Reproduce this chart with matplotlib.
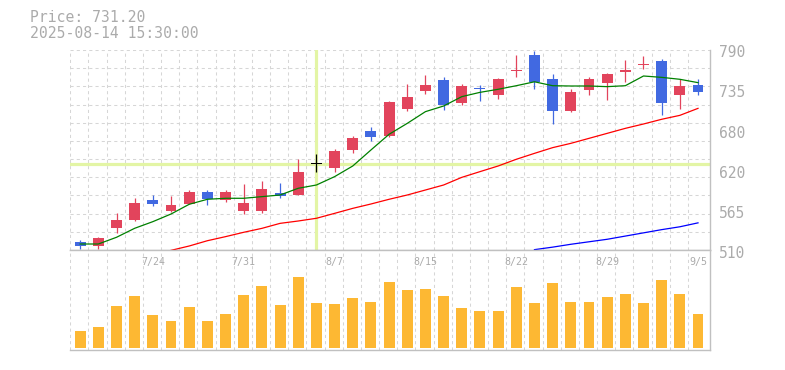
import numpy as np
import matplotlib
matplotlib.use("Agg")
import matplotlib.pyplot as plt
import matplotlib.transforms as mtrans

# 日足データ (チャートから読み取り)
dates = ["7/17", "7/18", "7/22", "7/23", "7/24", "7/25", "7/28", "7/29", "7/30", "7/31",
         "8/1", "8/4", "8/5", "8/6", "8/7", "8/8", "8/12", "8/13", "8/14", "8/15",
         "8/18", "8/19", "8/20", "8/21", "8/22", "8/25", "8/26", "8/27", "8/28", "8/29",
         "9/1", "9/2", "9/3", "9/4", "9/5"]
opens = [521, 515, 541, 552, 580, 565, 574.5, 591, 580.5, 565,
         565, 590, 587.5, 630.5, 625, 650.5, 676.5, 669.5, 707.5, 732.5,
         748, 716, 736, 727, 760, 783, 749.5, 704.5, 734.5, 744,
         759.5, 769.5, 774.5, 727, 741]
highs = [524, 528.6, 561.8, 582.8, 587, 586, 594, 594, 594, 602.8,
         606.6, 603.8, 637.4, 644.4, 651.4, 669.6, 681.8, 718.6, 742, 755,
         752.2, 742.4, 741, 751.2, 783, 788.6, 756.4, 735.4, 752.2, 757.8,
         776, 782, 777.4, 749, 749]
lows = [511.4, 511.8, 534.2, 551, 572, 563, 574, 573.4, 577.6, 560.8,
        562.2, 583.2, 587.4, 618.8, 619.6, 646.2, 663, 668.6, 705, 728.4,
        706, 713.4, 719, 721.8, 752.7, 735.4, 686, 703.6, 727.4, 720,
        745.2, 763.4, 699, 707.4, 727]
closes = [515, 527, 552, 576, 575, 573, 591, 582, 591, 576,
          595, 585, 619, 630.5, 648.5, 667, 668.5, 717, 724, 741,
          713.5, 739.5, 735, 749.5, 762, 745, 705, 731.2, 749.5, 756.5,
          762, 770.5, 716, 739.5, 731.5]
volumes = [17, 21, 42, 52, 33, 27, 41, 27, 34, 53,
           62, 43, 71, 45, 44, 50, 46, 66, 58, 59,
           52, 40, 37, 37, 61, 45, 65, 46, 46, 51,
           54, 45, 68, 54, 34]

# 移動平均線
ma_short = [518.4, 518.4, 527.8, 540.4, 549.7, 560.4, 574, 581, 582.4, 582.4,
            584.7, 587, 596.4, 601, 612.7, 627.6, 650, 672, 687.3, 703.7,
            711.6, 724.7, 730.7, 735, 740, 745.5, 740, 739.6, 739.6, 738.7,
            740, 753.6, 751.7, 749, 744.3]
ma_mid = [np.nan] * 5 + [509.5, 515.6, 523, 528.7, 534.8, 540.3, 547.3, 550.6, 554.4, 561.3,
                         568.3, 574.4, 581, 587, 594, 601, 611.7, 619.7, 627.6, 637,
                         645.3, 653.3, 659.3, 666.3, 673.3, 680.3, 686.4, 693, 698.5, 708.3]
ma_long = [np.nan] * 25 + [510.5, 514, 518, 521.5, 525, 529.5, 534, 538.5, 542.5, 548]

cross_idx = 13
cross_price = 630.5

UP = '#e2445c'
DOWN = '#4169e1'
GRID = '#d6d6d6'
TXT = '#ababab'
SPINE = '#c0c0c0'
MONO = 'DejaVu Sans Mono'

W, H = 785, 370
fig = plt.figure(figsize=(W / 100, H / 100), dpi=100)
fig.patch.set_facecolor('white')

ax = fig.add_axes([70 / W, (H - 250) / H, 640 / W, 200 / H])
axv = fig.add_axes([70 / W, (H - 350) / H, 640 / W, 100 / H])

x = np.arange(len(dates))
xlim = (-0.56, 34.66)
ymin, ymax = 510, 790

# グリッド
for a in (ax, axv):
    for gx in x - 0.55:
        a.axvline(gx, color=GRID, lw=0.75, ls=(0, (3, 3)), zorder=0)
for gy in np.linspace(ymin, ymax, 12)[1:]:
    ax.axhline(gy, color=GRID, lw=0.75, ls=(0, (3, 3)), zorder=0)

# クロスヘア
ax.axvline(cross_idx, color='#e3f5a5', lw=2.3, zorder=1)
ax.axhline(cross_price, color='#e3f5a5', lw=2.3, zorder=1)

# ローソク足
o = np.array(opens); c = np.array(closes)
colors = []
for oo, cc in zip(o, c):
    if cc > oo:
        colors.append(UP)
    elif cc < oo:
        colors.append(DOWN)
    else:
        colors.append('black')
ax.vlines(x, lows, highs, colors=colors, lw=0.9, zorder=3)
bottoms = np.minimum(o, c)
heights = np.maximum(np.abs(c - o), 1.5)
ax.bar(x, heights, bottom=bottoms, width=0.6, color=colors, zorder=3)

# 移動平均
ax.plot(x, ma_short, color='#008000', lw=0.9, zorder=4)
ax.plot(x, ma_mid, color='#ff0000', lw=0.9, zorder=4)
ax.plot(x, ma_long, color='#0000ff', lw=0.9, zorder=4)

ax.set_xlim(*xlim)
ax.set_ylim(ymin, ymax)
ax.set_xticks([])
ax.set_yticks([])
for s in ('top', 'left'):
    ax.spines[s].set_visible(False)
for s in ('right', 'bottom'):
    ax.spines[s].set_color(SPINE)
    ax.spines[s].set_linewidth(1.0)

# 価格ラベル
for p in np.linspace(ymin, ymax, 6):
    lab = str(int(round(p / 5.0) * 5))
    ax.annotate(lab, xy=(1, p), xycoords=('axes fraction', 'data'),
                xytext=(9, -3), textcoords='offset pixels',
                ha='left', va='center', color=TXT, fontsize=10.5, family=MONO)

# 出来高
axv.bar(x, volumes, width=0.6, color='#fdb833', zorder=3)
axv.set_xlim(*xlim)
axv.set_ylim(-2, 98)
axv.set_xticks([])
axv.set_yticks([])
axv.spines['left'].set_visible(False)
for s in ('right', 'bottom', 'top'):
    axv.spines[s].set_color(SPINE)
    axv.spines[s].set_linewidth(1.0)

tr = mtrans.blended_transform_factory(axv.transData, axv.transAxes)
for i in range(4, len(dates), 5):
    axv.text(i, 0.88, dates[i], transform=tr, ha='center', va='center',
             color=TXT, fontsize=7.2, family=MONO, zorder=5)

# ヘッダー
fig.text(30 / W, 1 - 18 / H, "Price: 731.20", ha='left', va='center',
         color=TXT, fontsize=10.6, family=MONO)
fig.text(30 / W, 1 - 33 / H, "2025-08-14 15:30:00", ha='left', va='center',
         color=TXT, fontsize=10.6, family=MONO)

fig.savefig('out.png', dpi=100)
